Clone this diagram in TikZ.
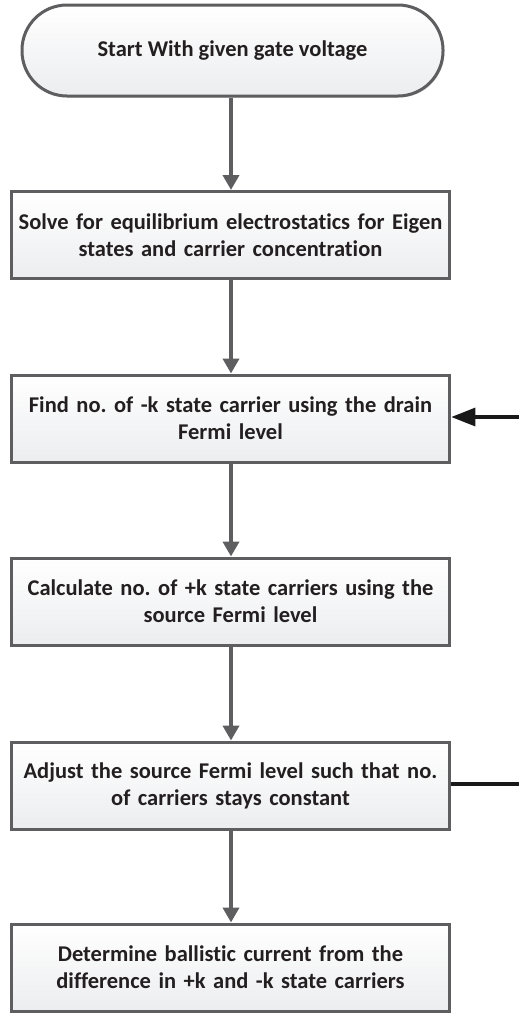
\documentclass[tikz,border=0pt]{standalone}
\usepackage{fontspec}
\setmainfont{Carlito}[Ligatures=CommonOff]
\usetikzlibrary{arrows.meta,shadows}
\definecolor{edgegray}{HTML}{5E5E60}
\definecolor{fillbot}{HTML}{ECEDEF}
\definecolor{txt}{HTML}{231F20}
\frenchspacing
\begin{document}
\begin{tikzpicture}[x=1pt,y=1pt,
  stepbox/.style={draw=edgegray, line width=3pt, rectangle, minimum width=437pt, minimum height=87pt,
    top color=white, bottom color=fillbot, align=center, text width=432pt,
    font=\bfseries\fontsize{22.5}{27}\selectfont, text=txt,
    drop shadow={shadow xshift=1.5pt, shadow yshift=-1.5pt, fill=black!25, opacity=0.5}},
  flow/.style={draw=edgegray, line width=4pt, -{Triangle[length=15pt,width=16pt]}},
  back/.style={draw=black!90, line width=3.2pt}
]
\useasboundingbox (0,0) rectangle (519,-1013);
\node[draw=edgegray, line width=3pt, rounded corners=45pt, minimum width=421pt, minimum height=91pt,
    top color=white, bottom color=fillbot, align=center,
    font=\bfseries\fontsize{22.5}{27}\selectfont, text=txt,
    drop shadow={shadow xshift=1.5pt, shadow yshift=-1.5pt, fill=black!25, opacity=0.5}]
  (start) at (232.5,-50.5) {Start With given gate voltage};
\node[stepbox] (s1) at (230.5,-235) {Solve for equilibrium electrostatics for Eigen\\states and carrier concentration};
\node[stepbox] (s2) at (230.5,-418.5) {Find no. of -k state carrier using the drain\\Fermi level};
\node[stepbox] (s3) at (230.5,-601.5) {Calculate no. of +k state carriers using the\\source Fermi level};
\node[stepbox] (s4) at (230.5,-785.5) {Adjust the source Fermi level such that no.\\of carriers stays constant};
\node[stepbox] (s5) at (230.5,-967.5) {Determine ballistic current from the\\difference in +k and -k state carriers};
\draw[flow] (start.south -| 231,0) -- (s1.north -| 231,0);
\draw[flow] (s1.south -| 231,0) -- (s2.north -| 231,0);
\draw[flow] (s2.south -| 231,0) -- (s3.north -| 231,0);
\draw[flow] (s3.south -| 231,0) -- (s4.north -| 231,0);
\draw[flow] (s4.south -| 231,0) -- (s5.north -| 231,0);
\coordinate (inR) at (520,-417);
\coordinate (outR) at (520,-784);
\draw[back, -{Triangle[length=24pt,width=18pt]}] (inR) -- (s2.east |- inR);
\draw[back] (s4.east |- outR) -- (outR);
\end{tikzpicture}
\end{document}
